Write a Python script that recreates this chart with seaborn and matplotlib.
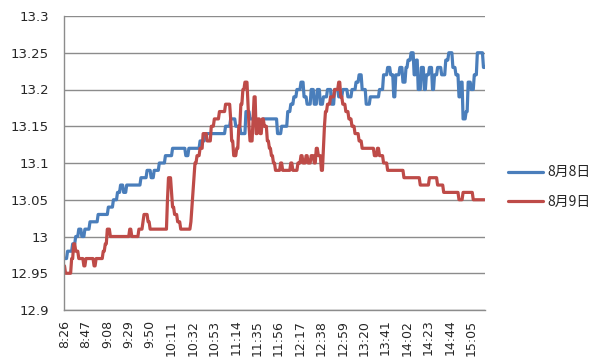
import numpy as np
import pandas as pd
import matplotlib
matplotlib.use("Agg")
import matplotlib.pyplot as plt
import seaborn as sns

# Minute-by-minute prices for two trading days
series_names = ["8月8日", "8月9日"]

aug8_prices = [
    12.97, 12.97, 12.97,
    12.98, 12.98, 12.98, 12.98, 12.98,
    12.99, 12.99, 12.99,
    13.00, 13.00, 13.00,
    13.01, 13.01, 13.01,
    13.00, 13.00, 13.00,
    13.01, 13.01, 13.01, 13.01, 13.01,
    13.02, 13.02, 13.02, 13.02, 13.02, 13.02, 13.02, 13.02,
    13.03, 13.03, 13.03, 13.03, 13.03, 13.03, 13.03, 13.03, 13.03, 13.03,
    13.04, 13.04, 13.04, 13.04, 13.04,
    13.05, 13.05, 13.05, 13.05,
    13.06, 13.06, 13.06,
    13.07, 13.07, 13.07,
    13.06, 13.06, 13.06,
    13.07, 13.07, 13.07, 13.07, 13.07, 13.07, 13.07, 13.07, 13.07, 13.07, 13.07, 13.07, 13.07, 13.07,
    13.08, 13.08, 13.08, 13.08, 13.08, 13.08,
    13.09, 13.09, 13.09, 13.09,
    13.08, 13.08, 13.08,
    13.09, 13.09, 13.09, 13.09, 13.09,
    13.10, 13.10, 13.10, 13.10, 13.10, 13.10,
    13.11, 13.11, 13.11, 13.11, 13.11, 13.11, 13.11,
    13.12, 13.12, 13.12, 13.12, 13.12, 13.12, 13.12, 13.12, 13.12, 13.12, 13.12, 13.12, 13.12,
    13.11, 13.11, 13.11,
    13.12, 13.12, 13.12, 13.12, 13.12, 13.12, 13.12, 13.12, 13.12, 13.12, 13.12,
    13.13, 13.13, 13.13, 13.13, 13.13,
    13.14, 13.14, 13.14, 13.14, 13.14, 13.14, 13.14, 13.14, 13.14, 13.14,
    13.14, 13.14, 13.14, 13.14, 13.14, 13.14, 13.14, 13.14, 13.14, 13.14,
    13.15, 13.15, 13.15, 13.15, 13.15,
    13.16, 13.16, 13.16, 13.16, 13.16,
    13.15, 13.15, 13.15, 13.15, 13.15,
    13.14, 13.14, 13.14, 13.14, 13.14,
    13.17, 13.17, 13.17, 13.17,
    13.16, 13.16, 13.16, 13.16, 13.16, 13.16, 13.16,
    13.15, 13.15, 13.15, 13.15, 13.15, 13.15,
    13.16, 13.16, 13.16, 13.16, 13.16, 13.16, 13.16, 13.16, 13.16, 13.16, 13.16, 13.16, 13.16, 13.16,
    13.14, 13.14, 13.14, 13.14,
    13.15, 13.15, 13.15, 13.15, 13.15, 13.15,
    13.17, 13.17, 13.17,
    13.18, 13.18, 13.18,
    13.19, 13.19, 13.19,
    13.20, 13.20, 13.20, 13.20,
    13.21, 13.21, 13.21,
    13.19, 13.19, 13.19,
    13.18, 13.18, 13.18, 13.18,
    13.20, 13.20, 13.20,
    13.18, 13.18, 13.18,
    13.20, 13.20, 13.20,
    13.18, 13.18, 13.18,
    13.19, 13.19, 13.19, 13.19,
    13.20, 13.20, 13.20, 13.20,
    13.18, 13.18, 13.18,
    13.20, 13.20, 13.20, 13.20,
    13.19, 13.19, 13.19, 13.19,
    13.20, 13.20, 13.20, 13.20, 13.20,
    13.19, 13.19, 13.19, 13.19,
    13.20, 13.20, 13.20, 13.20,
    13.21, 13.21, 13.21,
    13.22, 13.22, 13.22,
    13.20, 13.20, 13.20, 13.20,
    13.18, 13.18, 13.18, 13.18,
    13.19, 13.19, 13.19, 13.19, 13.19, 13.19, 13.19, 13.19, 13.19,
    13.20, 13.20, 13.20, 13.20,
    13.22, 13.22, 13.22, 13.22,
    13.23, 13.23, 13.23,
    13.22, 13.22, 13.22,
    13.19, 13.19,
    13.22, 13.22, 13.22, 13.22,
    13.23, 13.23, 13.23,
    13.21, 13.21, 13.21,
    13.23, 13.23,
    13.24, 13.24, 13.24,
    13.25, 13.25, 13.25,
    13.22, 13.22,
    13.24, 13.24,
    13.20, 13.20, 13.20,
    13.23, 13.23, 13.23,
    13.20, 13.20,
    13.22, 13.22, 13.22,
    13.23, 13.23, 13.23,
    13.20, 13.20,
    13.22, 13.22, 13.22,
    13.23, 13.23, 13.23, 13.23,
    13.22, 13.22, 13.22, 13.22,
    13.24, 13.24, 13.24,
    13.25, 13.25, 13.25, 13.25,
    13.23, 13.23, 13.23,
    13.22, 13.22, 13.22,
    13.19, 13.19,
    13.21, 13.21,
    13.16, 13.16, 13.16,
    13.17, 13.17,
    13.21, 13.21, 13.21,
    13.20, 13.20, 13.20,
    13.22, 13.22, 13.22,
    13.25, 13.25, 13.25, 13.25, 13.25, 13.25,
    13.23, 13.23,
]

aug9_prices = [
    12.96,
    12.95, 12.95, 12.95, 12.95, 12.95, 12.95,
    12.97, 12.97,
    12.99, 12.99,
    12.98, 12.98, 12.98,
    12.97, 12.97, 12.97, 12.97, 12.97,
    12.96, 12.96,
    12.97, 12.97, 12.97, 12.97, 12.97, 12.97, 12.97, 12.97,
    12.96, 12.96,
    12.97, 12.97, 12.97, 12.97, 12.97, 12.97, 12.97,
    12.98, 12.98,
    12.99, 12.99,
    13.01, 13.01, 13.01,
    13.00, 13.00, 13.00, 13.00, 13.00, 13.00, 13.00, 13.00, 13.00, 13.00,
    13.00, 13.00, 13.00, 13.00, 13.00, 13.00, 13.00, 13.00, 13.00,
    13.01, 13.01,
    13.00, 13.00, 13.00, 13.00, 13.00, 13.00, 13.00,
    13.01, 13.01, 13.01, 13.01,
    13.02,
    13.03, 13.03, 13.03, 13.03,
    13.02, 13.02,
    13.01, 13.01, 13.01, 13.01, 13.01, 13.01, 13.01, 13.01, 13.01,
    13.01, 13.01, 13.01, 13.01, 13.01, 13.01, 13.01, 13.01,
    13.05,
    13.08, 13.08, 13.08,
    13.06,
    13.04, 13.04,
    13.03, 13.03, 13.03,
    13.02, 13.02, 13.02,
    13.01, 13.01, 13.01, 13.01, 13.01, 13.01, 13.01, 13.01, 13.01, 13.01,
    13.02, 13.04, 13.06, 13.08,
    13.10, 13.10,
    13.11, 13.11, 13.11,
    13.12, 13.12, 13.12,
    13.14, 13.14, 13.14, 13.14,
    13.13, 13.13, 13.13, 13.13,
    13.15, 13.15, 13.15,
    13.16, 13.16, 13.16, 13.16, 13.16,
    13.17, 13.17, 13.17, 13.17, 13.17, 13.17,
    13.18, 13.18, 13.18, 13.18, 13.18,
    13.16,
    13.13, 13.13,
    13.11, 13.11, 13.11,
    13.12, 13.12,
    13.15, 13.15,
    13.18, 13.18,
    13.20, 13.20,
    13.21, 13.21, 13.21,
    13.18, 13.15,
    13.13, 13.13, 13.13,
    13.16,
    13.19, 13.19,
    13.14, 13.14,
    13.16, 13.16,
    13.14, 13.14,
    13.16, 13.16,
    13.15, 13.15, 13.15,
    13.13, 13.13,
    13.12, 13.12,
    13.11, 13.11,
    13.10, 13.10,
    13.09, 13.09, 13.09, 13.09, 13.09,
    13.10, 13.10,
    13.09, 13.09, 13.09, 13.09, 13.09, 13.09, 13.09, 13.09,
    13.10, 13.10,
    13.09, 13.09, 13.09, 13.09, 13.09,
    13.10, 13.10, 13.10,
    13.11, 13.11,
    13.10, 13.10, 13.10,
    13.11, 13.11,
    13.10, 13.10, 13.10,
    13.11, 13.11, 13.11,
    13.10, 13.10,
    13.12, 13.12,
    13.11, 13.11, 13.11,
    13.09, 13.09,
    13.12, 13.15,
    13.17, 13.17,
    13.18, 13.18, 13.18,
    13.19, 13.19, 13.19, 13.19,
    13.20, 13.20, 13.20, 13.20,
    13.21, 13.21,
    13.19, 13.19,
    13.18, 13.18, 13.18,
    13.17, 13.17, 13.17,
    13.16, 13.16, 13.16,
    13.15, 13.15, 13.15,
    13.14, 13.14, 13.14, 13.14,
    13.13, 13.13, 13.13,
    13.12, 13.12, 13.12, 13.12, 13.12, 13.12, 13.12, 13.12, 13.12, 13.12, 13.12, 13.12,
    13.11, 13.11, 13.11,
    13.12, 13.12,
    13.11, 13.11, 13.11, 13.11,
    13.10, 13.10, 13.10, 13.10,
    13.09, 13.09, 13.09, 13.09, 13.09, 13.09, 13.09, 13.09,
    13.09, 13.09, 13.09, 13.09, 13.09, 13.09, 13.09, 13.09,
    13.08, 13.08, 13.08, 13.08, 13.08, 13.08, 13.08, 13.08,
    13.08, 13.08, 13.08, 13.08, 13.08, 13.08, 13.08, 13.08,
    13.07, 13.07, 13.07, 13.07, 13.07, 13.07, 13.07, 13.07, 13.07,
    13.08, 13.08, 13.08, 13.08, 13.08, 13.08, 13.08, 13.08,
    13.07, 13.07, 13.07, 13.07, 13.07, 13.07,
    13.06, 13.06, 13.06, 13.06, 13.06, 13.06, 13.06, 13.06, 13.06, 13.06,
    13.06, 13.06, 13.06, 13.06, 13.06,
    13.05, 13.05, 13.05, 13.05,
    13.06, 13.06, 13.06, 13.06, 13.06, 13.06, 13.06, 13.06, 13.06, 13.06,
    13.05, 13.05, 13.05, 13.05, 13.05, 13.05, 13.05, 13.05, 13.05, 13.05, 13.05, 13.05,
]

# Time labels shown every 21 minutes along the category axis
time_labels = ["8:26", "8:47", "9:08", "9:29", "9:50", "10:11", "10:32",
               "10:53", "11:14", "11:35", "11:56", "12:17", "12:38", "12:59",
               "13:20", "13:41", "14:02", "14:23", "14:44", "15:05"]
label_step = 21

y_ticks = [12.9, 12.95, 13.0, 13.05, 13.1, 13.15, 13.2, 13.25, 13.3]

line_colors = ["#4A7EBB", "#BE4B48"]
grid_color = "#8C8C8C"
text_color = "#262626"

frames = []
for name, values in zip(series_names, [aug8_prices, aug9_prices]):
    frames.append(pd.DataFrame({
        "minute": np.arange(len(values)),
        "price": values,
        "series": name,
    }))
df = pd.concat(frames, ignore_index=True)
n_points = max(len(aug8_prices), len(aug9_prices))

sns.set_style("white")
plt.rcParams["font.family"] = ["DejaVu Sans", "Noto Sans CJK SC"]

fig = plt.figure(figsize=(6.0, 3.58), dpi=100)
ax = fig.add_axes([64 / 600, 48 / 358, 421 / 600, 294 / 358])

sns.lineplot(data=df, x="minute", y="price", hue="series",
             palette=line_colors, linewidth=2.3, estimator=None,
             errorbar=None, ax=ax)
for line in ax.get_lines():
    line.set_solid_joinstyle("round")
    line.set_solid_capstyle("round")

ax.set_xlim(-0.5, n_points - 0.5)
ax.set_ylim(y_ticks[0], y_ticks[-1])

ax.set_yticks(y_ticks)
ax.set_yticklabels([f"{round(v, 2):g}" for v in y_ticks])
tick_pos = [i * label_step for i in range(len(time_labels))]
ax.set_xticks(tick_pos)
ax.set_xticklabels(time_labels, rotation=90)

ax.set_xlabel("")
ax.set_ylabel("")

ax.yaxis.grid(True, color=grid_color, linewidth=1.0)
ax.xaxis.grid(False)
ax.set_axisbelow(True)

for side in ["top", "right"]:
    ax.spines[side].set_visible(False)
for side in ["left", "bottom"]:
    ax.spines[side].set_color(grid_color)
    ax.spines[side].set_linewidth(1.0)

ax.tick_params(axis="y", length=4, width=1.0, color=grid_color,
               labelsize=9.5, labelcolor=text_color, pad=7)
ax.tick_params(axis="x", length=0, labelsize=9.0, labelcolor=text_color, pad=7)

handles, labels = ax.get_legend_handles_labels()
ax.legend(handles, labels, loc="center left",
          bbox_to_anchor=((508 - 64) / 421, (310 - 187) / 294),
          frameon=False, prop={"family": ["Noto Sans CJK SC"], "size": 10},
          handlelength=2.5, handletextpad=0.3, labelspacing=1.1,
          borderpad=0, borderaxespad=0)
for txt in ax.get_legend().get_texts():
    txt.set_color(text_color)

fig.savefig("out.png", dpi=100)
